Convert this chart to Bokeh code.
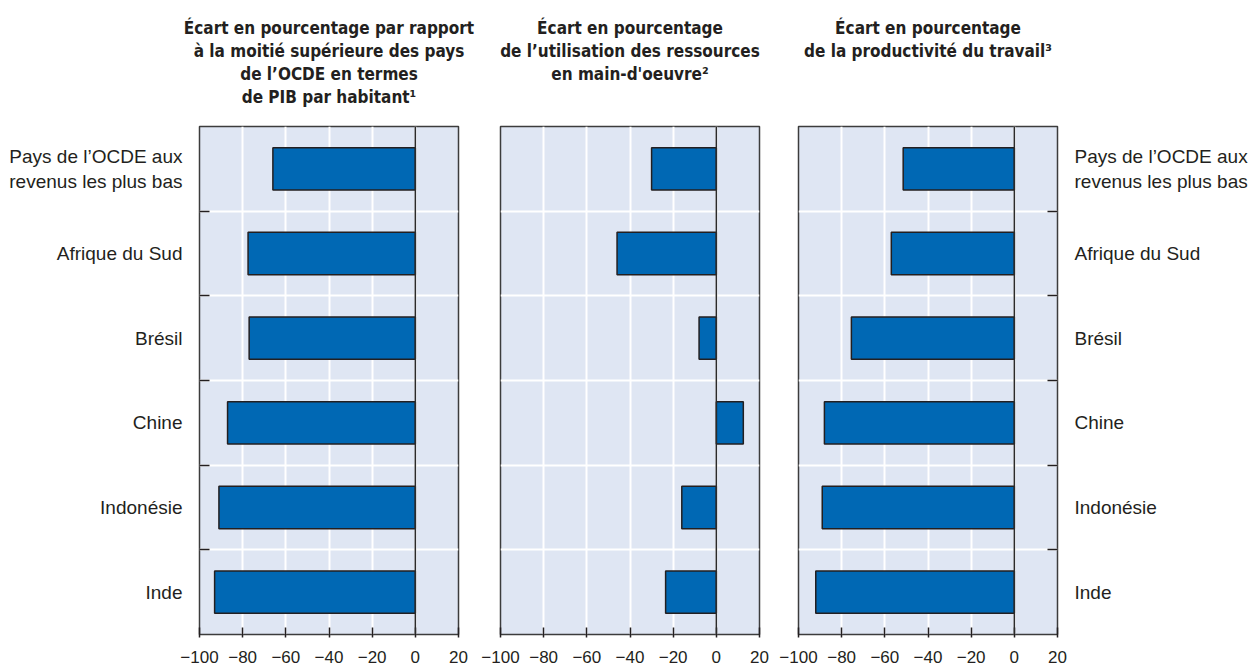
from bokeh.plotting import figure
from bokeh.layouts import row
from bokeh.models import FixedTicker, Span, Title
from bokeh.embed import file_html
from bokeh.resources import INLINE

categories = ["Pays de l’OCDE aux\nrevenus les plus bas", "Afrique du Sud", "Brésil",
              "Chine", "Indonésie", "Inde"]
gdp_gap = [-66, -77.5, -77, -87, -91, -93]
labour_util_gap = [-30, -46, -8, 12.5, -16, -23.5]
productivity_gap = [-51.5, -57, -75.5, -88, -89, -92]
titles = [
    ["Écart en pourcentage par rapport", "à la moitié supérieure des pays",
     "de l’OCDE en termes", "de PIB par habitant¹"],
    ["Écart en pourcentage", "de l’utilisation des ressources", "en main-d'oeuvre²"],
    ["Écart en pourcentage", "de la productivité du travail³"],
]
x_ticks = [-100, -80, -60, -40, -20, 0, 20]
x_tick_labels = ["−100", "−80", "−60", "−40", "−20", "0", "20"]

n = len(categories)
ypos = [n - i - 0.5 for i in range(n)]
bounds = list(range(1, n))

TFONT = "DejaVu Sans Condensed"
FONT = "Liberation Sans"
TXT = "#231f20"
BG = "#dfe6f3"
BAR = "#0068b4"

FRAME_W = 259
FRAME_H = 508
TOP = 126
BOTTOM = 34
N_LINES = 4


def make_panel(values, title_lines, side, left, right):
    p = figure(frame_width=FRAME_W, frame_height=FRAME_H, x_range=(-100, 20), y_range=(0, n),
               output_backend="svg", toolbar_location=None,
               y_axis_location=side if side else "left",
               min_border_left=left, min_border_right=right,
               min_border_top=TOP, min_border_bottom=BOTTOM)
    p.background_fill_color = BG
    p.border_fill_color = "white"
    p.outline_line_color = "#3c3c3c"
    p.outline_line_width = 1.5

    p.xgrid.ticker = FixedTicker(ticks=x_ticks)
    p.ygrid.ticker = FixedTicker(ticks=bounds)
    p.grid.grid_line_color = "white"
    p.grid.grid_line_width = 2

    p.hbar(y=ypos, left=0, right=values, height=0.5, fill_color=BAR,
           line_color="#231f20", line_width=1.5)
    p.add_layout(Span(location=0, dimension="height", line_color="#2b2b2b", line_width=1.5))

    xa = p.xaxis[0]
    xa.ticker = FixedTicker(ticks=x_ticks)
    xa.major_label_overrides = {t: l for t, l in zip(x_ticks, x_tick_labels)}
    xa.axis_line_color = None
    xa.major_tick_in = 7
    xa.major_tick_out = 3
    xa.major_tick_line_color = TXT
    xa.major_tick_line_width = 1.5
    xa.minor_tick_line_color = None
    xa.major_label_text_font = FONT
    xa.major_label_text_font_size = "17px"
    xa.major_label_text_color = TXT
    xa.major_label_standoff = 13

    ya = p.yaxis[0]
    if side is None:
        ya.visible = False
    else:
        ya.ticker = FixedTicker(ticks=ypos, minor_ticks=bounds)
        ya.major_label_overrides = {y: c for y, c in zip(ypos, categories)}
        ya.axis_line_color = None
        ya.major_tick_in = 0
        ya.major_tick_out = 0
        ya.minor_tick_in = 10
        ya.minor_tick_out = 0
        ya.minor_tick_line_color = TXT
        ya.minor_tick_line_width = 1.5
        ya.major_label_text_font = FONT
        ya.major_label_text_font_size = "19px"
        ya.major_label_text_color = TXT
        ya.major_label_standoff = 17
        ya.major_label_orientation = "horizontal"

    # spacer between the frame and the title block
    p.add_layout(Title(text=" ", text_font_size="1px", standoff=16), "above")
    lines = title_lines + [" "] * (N_LINES - len(title_lines))
    for line in reversed(lines):
        p.add_layout(Title(text=line, align="center", text_font=TFONT, text_font_style="bold",
                           text_font_size="17px", text_color=TXT, standoff=1), "above")
    return p


p1 = make_panel(gdp_gap, titles[0], "left", 199, 21)
p2 = make_panel(labour_util_gap, titles[1], None, 21, 19)
p3 = make_panel(productivity_gap, titles[2], "right", 20, 185)

layout = row(p1, p2, p3)
open("out.html", "w").write(file_html(layout, INLINE))
